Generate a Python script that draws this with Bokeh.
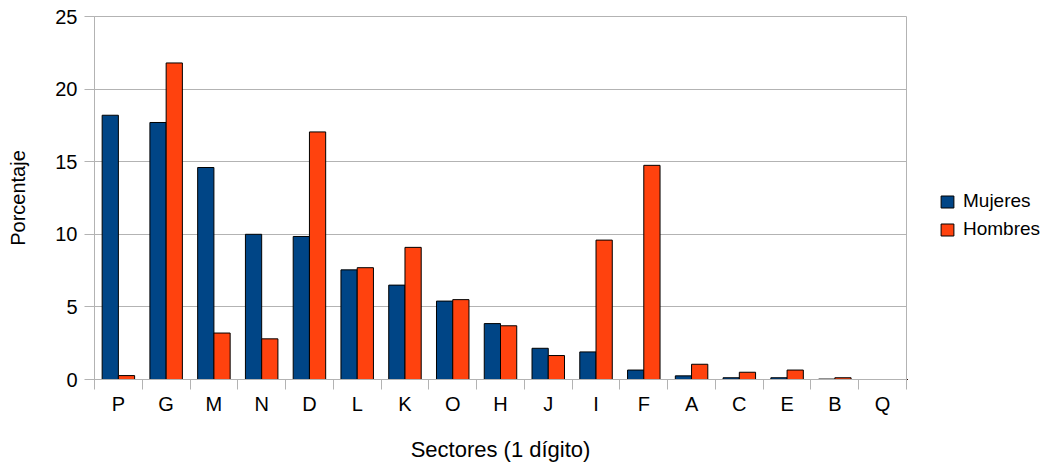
from bokeh.plotting import figure
from bokeh.layouts import row
from bokeh.models import ColumnDataSource, Range1d, FixedTicker, Legend, LegendItem
from bokeh.embed import file_html
from bokeh.resources import INLINE

sectores = ["P", "G", "M", "N", "D", "L", "K", "O", "H", "J", "I", "F", "A", "C", "E", "B", "Q"]
mujeres = [18.2, 17.7, 14.6, 10.0, 9.85, 7.55, 6.5, 5.4, 3.85, 2.15, 1.9, 0.65, 0.25, 0.12, 0.12, 0.03, 0.0]
hombres = [0.27, 21.8, 3.2, 2.8, 17.05, 7.7, 9.1, 5.5, 3.7, 1.65, 9.6, 14.75, 1.05, 0.5, 0.65, 0.12, 0.0]
series_names = ["Mujeres", "Hombres"]
y_ticks = [0, 5, 10, 15, 20, 25]

FONT = "Liberation Sans"
BAR_W = 0.34
COL_M = "#004586"
COL_H = "#ff420e"

pos = list(range(1, len(sectores) + 1))
src = ColumnDataSource(dict(
    x_m=[i - BAR_W / 2 for i in pos],
    x_h=[i + BAR_W / 2 for i in pos],
    mujeres=mujeres,
    hombres=hombres,
))

p = figure(width=907, height=464, output_backend="svg", toolbar_location=None,
           x_range=Range1d(0.5, len(sectores) + 0.5), y_range=Range1d(0, 25),
           min_border_left=94, min_border_right=1, min_border_top=16, min_border_bottom=85)

p.vbar(x="x_m", top="mujeres", width=BAR_W, source=src,
       fill_color=COL_M, line_color="black", line_width=1)
p.vbar(x="x_h", top="hombres", width=BAR_W, source=src,
       fill_color=COL_H, line_color="black", line_width=1)

p.outline_line_color = "#b3b3b3"
p.xgrid.grid_line_color = None
p.ygrid.grid_line_color = "#b3b3b3"
p.ygrid.ticker = FixedTicker(ticks=y_ticks)

# x axis: boundary tick marks (minor), labels at category centres (major)
p.xaxis.ticker = FixedTicker(ticks=pos, minor_ticks=[i + 0.5 for i in range(len(sectores) + 1)])
p.xaxis.major_label_overrides = {i: s for i, s in zip(pos, sectores)}
p.xaxis.major_tick_out = 0
p.xaxis.major_tick_in = 0
p.xaxis.minor_tick_out = 10
p.xaxis.minor_tick_in = 0
p.xaxis.minor_tick_line_color = "#b3b3b3"
p.xaxis.axis_line_color = "#b3b3b3"
p.xaxis.major_label_standoff = 3
p.xaxis.axis_label = "Sectores (1 dígito)"
p.xaxis.axis_label_standoff = 19

# y axis
p.yaxis.ticker = FixedTicker(ticks=y_ticks)
p.yaxis.major_tick_out = 10
p.yaxis.major_tick_in = 0
p.yaxis.minor_tick_line_color = None
p.yaxis.major_tick_line_color = "#b3b3b3"
p.yaxis.axis_line_color = "#b3b3b3"
p.yaxis.major_label_standoff = 7
p.yaxis.axis_label = "Porcentaje"
p.yaxis.axis_label_standoff = 23

for ax in (p.xaxis, p.yaxis):
    ax.major_label_text_font = FONT
    ax.major_label_text_font_size = "20px"
    ax.major_label_text_color = "black"
    ax.axis_label_text_font = FONT
    ax.axis_label_text_font_style = "normal"
    ax.axis_label_text_color = "black"
p.xaxis.axis_label_text_font_size = "22px"
p.yaxis.axis_label_text_font_size = "20px"

# legend panel to the right of the chart (its bars lie outside its view)
q = figure(width=138, height=464, output_backend="svg", toolbar_location=None,
           x_axis_type=None, y_axis_type=None,
           x_range=Range1d(1000, 1001), y_range=Range1d(1000, 1001),
           min_border_left=0, min_border_right=0, min_border_top=0, min_border_bottom=0)
q.outline_line_color = None
q.xgrid.grid_line_color = None
q.ygrid.grid_line_color = None
lm = q.vbar(x="x_m", top="mujeres", width=BAR_W, source=src,
            fill_color=COL_M, line_color="black", line_width=1)
lh = q.vbar(x="x_h", top="hombres", width=BAR_W, source=src,
            fill_color=COL_H, line_color="black", line_width=1)

legend = Legend(items=[LegendItem(label=series_names[0], renderers=[lm]),
                       LegendItem(label=series_names[1], renderers=[lh])],
                location=(32, 139), orientation="vertical")
legend.padding = 0
legend.margin = 0
legend.spacing = 6
legend.glyph_width = 16
legend.glyph_height = 15
legend.label_height = 15
legend.label_standoff = 8
legend.label_text_font = FONT
legend.label_text_font_size = "19px"
legend.label_text_color = "black"
legend.border_line_color = None
legend.background_fill_alpha = 0
q.add_layout(legend)

layout = row(p, q)
open("out.html", "w").write(file_html(layout, INLINE))
